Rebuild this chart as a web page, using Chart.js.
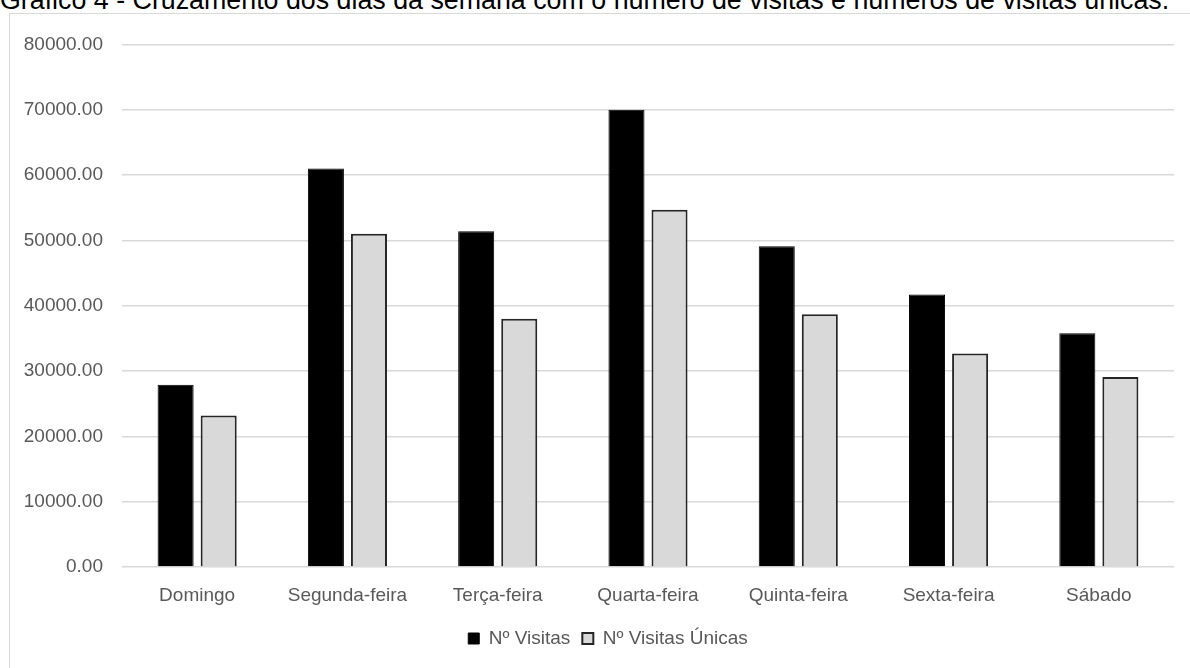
<!DOCTYPE html>
<html>
<head>
<meta charset="utf-8">
<script src="https://cdn.jsdelivr.net/npm/chart.js@4"></script>
<style>
  html, body { margin: 0; padding: 0; background: #fff; overflow: hidden; }
  body { width: 1190px; height: 668px; position: relative; }
  #title {
    position: absolute; left: 0; top: -13.2px; white-space: nowrap;
    font: 26.8px/26.8px "Liberation Sans", Arial, sans-serif; color: #000;
  }
  #frame {
    position: absolute; left: 9px; top: 13px; width: 1200px; height: 660px;
    border: 1px solid #d9d9d9; box-sizing: border-box;
  }
  #wrap { position: absolute; left: 0; top: 0; width: 1198px; height: 658px; }
</style>
</head>
<body>
<div id="title">Gráfico 4 - Cruzamento dos dias da semana com o número de visitas e números de visitas únicas.</div>
<div id="frame"><div id="wrap"><canvas id="chart"></canvas></div></div>
<script>
const days = ["Domingo", "Segunda-feira", "Terça-feira", "Quarta-feira", "Quinta-feira", "Sexta-feira", "Sábado"];
const visitas = [27900, 61000, 51400, 70000, 49100, 41700, 35800];
const visitasUnicas = [23200, 51000, 38000, 54700, 38700, 32700, 29100];

const FONT = { family: '"Liberation Sans", Arial, sans-serif', size: 19 };
const TEXT = "#595959";

// legend sits centred on the whole frame, not on the padded layout box
const legendShift = {
  id: "legendShift",
  afterLayout(chart) {
    chart.legend.left += 16;
    chart.legend.right += 16;
  },
};

new Chart(document.getElementById("chart"), {
  type: "bar",
  data: {
    labels: days,
    datasets: [
      {
        label: "Nº Visitas",
        data: visitas,
        backgroundColor: "#000000",
        borderColor: "#000000",
        borderWidth: 1,
      },
      {
        label: "Nº Visitas Únicas",
        data: visitasUnicas,
        backgroundColor: "#d9d9d9",
        borderColor: "#262626",
        borderWidth: 2,
      },
    ],
  },
  options: {
    responsive: true,
    maintainAspectRatio: false,
    animation: false,
    categoryPercentage: 0.573,
    barPercentage: 0.837,
    layout: { padding: { top: 22, right: 34, bottom: 14, left: 0 } },
    plugins: {
      tooltip: { enabled: false },
      legend: {
        position: "bottom",
        labels: {
          font: FONT,
          color: TEXT,
          boxWidth: 11,
          boxHeight: 11,
          padding: 12,
        },
      },
    },
    scales: {
      x: {
        grid: { display: false },
        border: { display: false },
        ticks: { font: FONT, color: TEXT, padding: 9, maxRotation: 0 },
        afterFit: (scale) => { scale.height = 50; },
      },
      y: {
        min: 0,
        max: 80000,
        border: { display: false },
        grid: { color: "#d9d9d9", lineWidth: 1.5, drawTicks: false },
        ticks: {
          stepSize: 10000,
          font: FONT,
          color: TEXT,
          padding: 19,
          callback: (v) => v.toFixed(2),
        },
        afterFit: (scale) => { scale.width = 112; },
      },
    },
  },
  plugins: [legendShift],
});
</script>
</body>
</html>
